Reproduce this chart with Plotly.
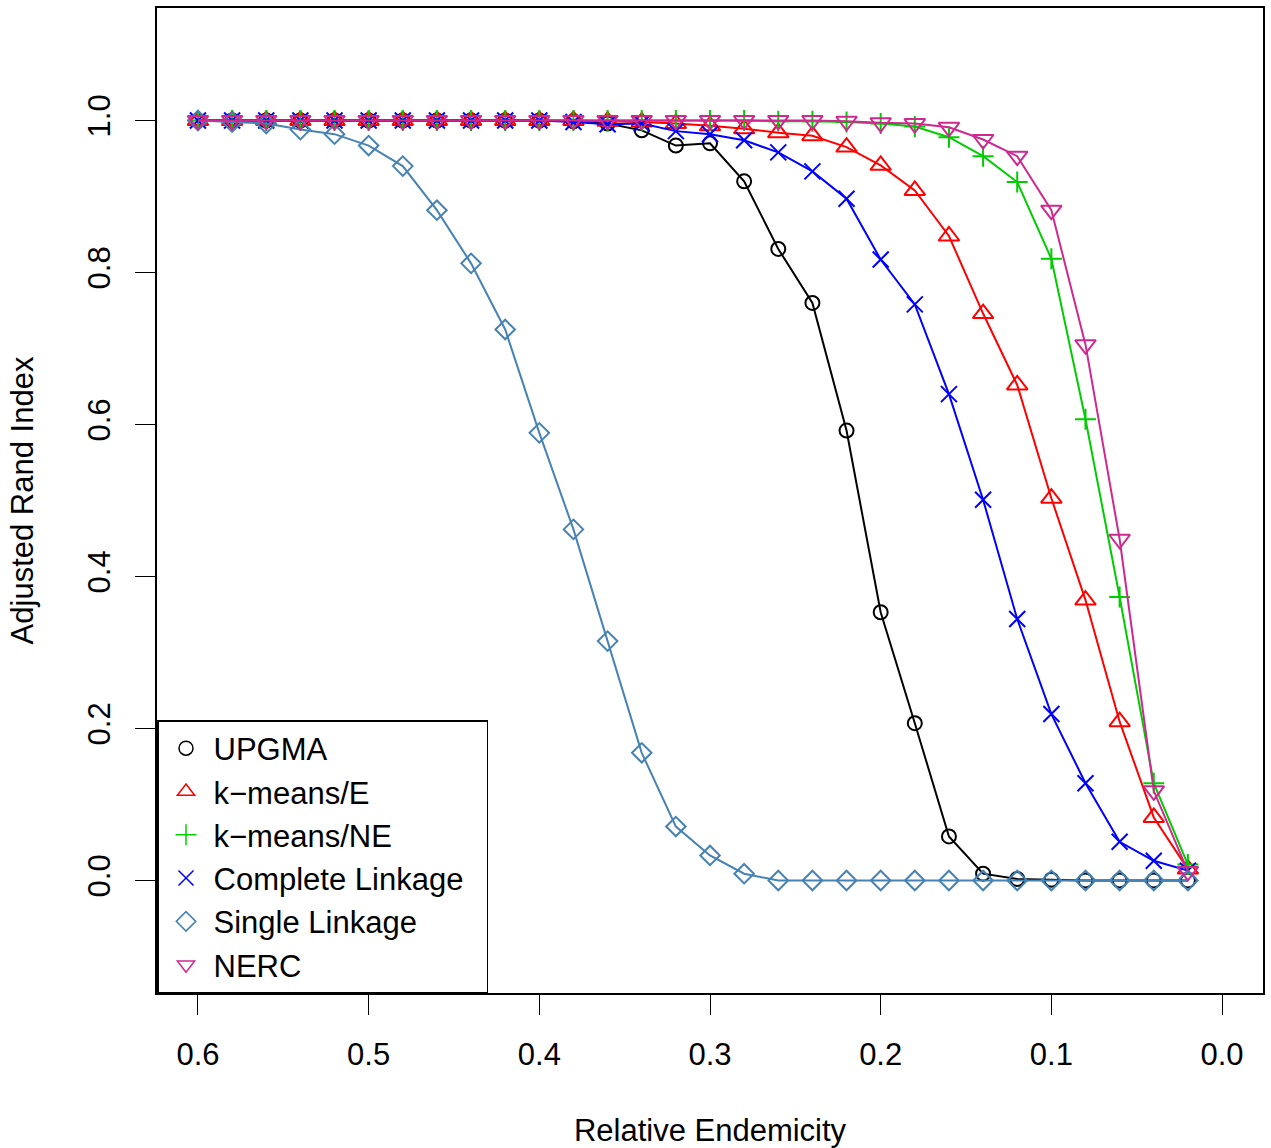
import plotly.graph_objects as go

x_vals = [0.60, 0.58, 0.56, 0.54, 0.52, 0.50, 0.48, 0.46, 0.44, 0.42,
          0.40, 0.38, 0.36, 0.34, 0.32, 0.30, 0.28, 0.26, 0.24, 0.22,
          0.20, 0.18, 0.16, 0.14, 0.12, 0.10, 0.08, 0.06, 0.04, 0.02]

upgma = [1.0, 1.0, 1.0, 1.0, 1.0, 1.0, 1.0, 1.0, 1.0, 1.0,
         1.0, 0.999, 0.996, 0.987, 0.967, 0.970, 0.920, 0.831, 0.760, 0.592,
         0.353, 0.207, 0.058, 0.009, 0.002, 0.001, 0.0, 0.0, 0.0, 0.0]

kmeans_e = [1.0, 1.0, 1.0, 1.0, 1.0, 1.0, 1.0, 1.0, 1.0, 1.0,
            1.0, 1.0, 0.999, 0.998, 0.996, 0.993, 0.989, 0.984, 0.980, 0.965,
            0.941, 0.908, 0.848, 0.746, 0.652, 0.503, 0.369, 0.209, 0.083, 0.015]

kmeans_ne = [1.0, 1.0, 1.0, 1.0, 1.0, 1.0, 1.0, 1.0, 1.0, 1.0,
             1.0, 1.0, 1.0, 1.0, 1.0, 1.0, 1.0, 0.999, 0.999, 0.998,
             0.996, 0.992, 0.978, 0.953, 0.919, 0.818, 0.607, 0.373, 0.128, 0.021]

complete = [1.0, 1.0, 1.0, 1.0, 1.0, 1.0, 1.0, 1.0, 1.0, 1.0,
            1.0, 0.998, 0.995, 0.996, 0.986, 0.982, 0.974, 0.958, 0.933, 0.897,
            0.817, 0.758, 0.640, 0.501, 0.344, 0.219, 0.128, 0.051, 0.026, 0.013]

single = [1.0, 0.998, 0.996, 0.988, 0.982, 0.967, 0.940, 0.882, 0.812, 0.725,
          0.589, 0.462, 0.315, 0.168, 0.071, 0.033, 0.009, 0.0, 0.0, 0.0,
          0.0, 0.0, 0.0, 0.0, 0.0, 0.0, 0.0, 0.0, 0.0, 0.0]

nerc = [1.0, 1.0, 1.0, 1.0, 1.0, 1.0, 1.0, 1.0, 1.0, 1.0,
        1.0, 1.0, 1.0, 1.0, 1.0, 1.0, 1.0, 1.0, 1.0, 0.999,
        0.997, 0.996, 0.991, 0.975, 0.953, 0.882, 0.705, 0.449, 0.118, 0.012]

series_names = ["UPGMA", "k\u2212means/E", "k\u2212means/NE", "Complete Linkage", "Single Linkage", "NERC"]
series_values = [upgma, kmeans_e, kmeans_ne, complete, single, nerc]
series_colors = ["#000000", "#FF0000", "#00CD00", "#0000FF", "#4682B4", "#CD2990"]
series_symbols = ["circle-open", "triangle-up-open", "cross-thin", "x-thin", "diamond-open", "triangle-down-open"]
series_sizes = [14, 18, 15, 16, 15, 18]

x_ticks = [0.6, 0.5, 0.4, 0.3, 0.2, 0.1, 0.0]
y_ticks = [0.0, 0.2, 0.4, 0.6, 0.8, 1.0]

FONT = "Liberation Sans, Arial, Helvetica, sans-serif"
PAD = "\u00a0\u00a0"

fig = go.Figure()
for name, vals, col, sym, sz in zip(series_names, series_values, series_colors, series_symbols, series_sizes):
    fig.add_trace(go.Scatter(
        x=x_vals, y=vals, mode="lines+markers", name=name, showlegend=False,
        line=dict(color=col, width=2),
        marker=dict(symbol=sym, size=sz, color=col, line=dict(color=col, width=2)),
    ))
for name, col, sym, sz in zip(series_names, series_colors, series_symbols, series_sizes):
    fig.add_trace(go.Scatter(
        x=[None], y=[None], mode="markers", name=name + PAD, showlegend=True,
        marker=dict(symbol=sym, size=min(sz, 15), color=col, line=dict(color=col, width=1.5)),
    ))

fig.update_layout(
    width=1271, height=1148,
    margin=dict(l=157, r=8, t=6, b=152),
    paper_bgcolor="white", plot_bgcolor="white",
    font=dict(family=FONT, size=31, color="black"),
    showlegend=True,
    legend=dict(
        x=0, y=0, xanchor="left", yanchor="bottom",
        bordercolor="black", borderwidth=1.5, bgcolor="white",
        font=dict(family=FONT, size=31, color="black"),
        itemwidth=45, tracegroupgap=0,
    ),
    xaxis=dict(
        range=[0.624, -0.024], tickmode="array", tickvals=x_ticks,
        tickformat=".1f", ticks="outside", ticklen=20, tickwidth=1.2, tickcolor="black",
        showgrid=False, zeroline=False, showline=True, linecolor="black", linewidth=1.5,
        mirror=True, ticklabelstandoff=13,
        title=dict(text="Relative Endemicity", standoff=48, font=dict(size=31)),
    ),
    yaxis=dict(
        range=[-0.148, 1.148], tickmode="array", tickvals=y_ticks,
        tickformat=".1f", ticks="outside", ticklen=20, tickwidth=1.2, tickcolor="black",
        tickangle=-90,
        showgrid=False, zeroline=False, showline=True, linecolor="black", linewidth=1.5,
        mirror=True, ticklabelstandoff=13,
        title=dict(text="Adjusted Rand Index", standoff=39, font=dict(size=31)),
    ),
)

fig.write_html("out.html", config={"displayModeBar": False},
               post_script="document.body.style.margin='0';")
